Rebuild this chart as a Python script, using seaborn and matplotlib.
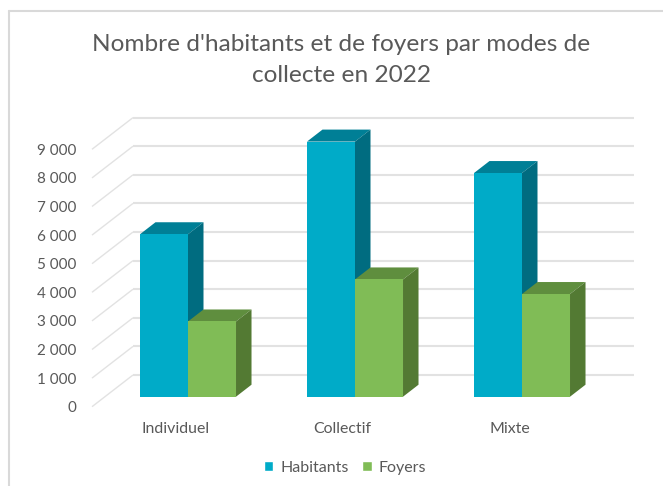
import pandas as pd
import matplotlib
matplotlib.use("Agg")
import matplotlib.pyplot as plt
from matplotlib.lines import Line2D
from matplotlib.patches import Polygon
from matplotlib.ticker import FuncFormatter
from matplotlib.transforms import ScaledTranslation
import seaborn as sns

categories = ["Individuel", "Collectif", "Mixte"]
habitants = [5680, 8920, 7820]
foyers = [2630, 4100, 3590]
y_ticks = list(range(0, 10000, 1000))

W, H = 663, 486
TEXT = "#595959"
GRID = "#E2E2E2"
# front, top, side of each series
COLORS = {
    "Habitants": ("#00ABC8", "#007F96", "#006C80"),
    "Foyers": ("#80BC56", "#5F8E3E", "#537A33"),
}

df = pd.DataFrame({
    "mode": categories * 2,
    "serie": ["Habitants"] * 3 + ["Foyers"] * 3,
    "valeur": habitants + foyers,
})

sns.set_style("white")
plt.rcParams["font.family"] = ["Lato", "DejaVu Sans"]

fig = plt.figure(figsize=(W / 100, H / 100), dpi=100)
# axes = plane of the bars' front faces, in pixels of the reference
left, right, top, bottom = 104.5, 605.5, 139.3, 396.7
ax = fig.add_axes([left / W, 1 - bottom / H, (right - left) / W, (bottom - top) / H])

sns.barplot(data=df, x="mode", y="valeur", hue="serie", order=categories,
            hue_order=list(COLORS), palette={k: v[0] for k, v in COLORS.items()},
            width=0.575, gap=0, saturation=1, ax=ax)

ax.set_xlim(-0.5, 2.5)
ax.set_ylim(0, 9000)
ax.set_xlabel("")
ax.set_ylabel("")
ax.set_yticks(y_ticks)
ax.yaxis.set_major_formatter(FuncFormatter(lambda v, _: f"{v:,.0f}".replace(",", " ")))
sns.despine(ax=ax, left=True, bottom=True)
ax.patch.set_alpha(0)

# fake 3d: pixel offsets converted to data units
px_x = 3 / (right - left)
px_y = 9000 / (bottom - top)


def depth(dx, dy):
    return dx * px_x, dy * px_y


# floor and back wall gridlines
wall_x, wall_y = depth(28.5, 21.7)
front_x, front_y = depth(-12.5, -10)
x0, x1 = ax.get_xlim()
for v in y_ticks:
    ax.plot([x0 + front_x, x0 + wall_x], [v + front_y, v + wall_y], color=GRID,
            lw=1, clip_on=False, zorder=1, solid_capstyle="butt")
    ax.plot([x0 + wall_x, x1 + wall_x], [v + wall_y, v + wall_y], color=GRID,
            lw=1.5, clip_on=False, zorder=1, solid_capstyle="butt")

# top and side faces of the bars
bar_x, bar_y = depth(15.5, 12)
for n, (container, name) in enumerate(zip(ax.containers, COLORS)):
    _, top_c, side_c = COLORS[name]
    for bar in container:
        a, b = bar.get_x(), bar.get_x() + bar.get_width()
        h = bar.get_height()
        bar.set_zorder(3 + 2 * n)
        bar.set_linewidth(0)
        ax.add_patch(Polygon([(a, h), (b, h), (b + bar_x, h + bar_y), (a + bar_x, h + bar_y)],
                             fc=top_c, ec="none", clip_on=False, zorder=2 + 2 * n))
        ax.add_patch(Polygon([(b, 0), (b, h), (b + bar_x, h + bar_y), (b + bar_x, bar_y)],
                             fc=side_c, ec="none", clip_on=False, zorder=2 + 2 * n))

# labels sit on the front edge of the floor
ax.tick_params(axis="both", length=0)
ax.tick_params(axis="y", pad=20, labelsize=11, labelcolor=TEXT)
ax.tick_params(axis="x", pad=18.5, labelsize=11.4, labelcolor=TEXT)
y_shift = ScaledTranslation(0, -10 / 100, fig.dpi_scale_trans)
x_shift = ScaledTranslation(-12.5 / 100, 0, fig.dpi_scale_trans)
for label in ax.get_yticklabels():
    label.set_transform(label.get_transform() + y_shift)
for label in ax.get_xticklabels():
    label.set_transform(label.get_transform() + x_shift)

fig.text(341.5 / W, 1 - 60 / H, "Nombre d'habitants et de foyers par modes de\ncollecte en 2022",
         ha="center", va="center", fontsize=17.6, color=TEXT, linespacing=1.6)

handles, labels = ax.get_legend_handles_labels()
ax.legend(handles, labels, loc="center", bbox_to_anchor=(345 / W, 1 - 468 / H),
          bbox_transform=fig.transFigure, ncol=2, frameon=False, fontsize=11.5,
          labelcolor=TEXT, handlelength=0.6, handleheight=0.6, handletextpad=0.45,
          columnspacing=0.85)

# chart frame, cut by the screenshot on the right and bottom
for xs, ys in [((9, 9), (11, H)), ((9, W), (11, 11))]:
    fig.add_artist(Line2D([x / W for x in xs], [1 - y / H for y in ys], color="#D9D9D9", lw=1.5))

fig.savefig("out.png", dpi=100)
